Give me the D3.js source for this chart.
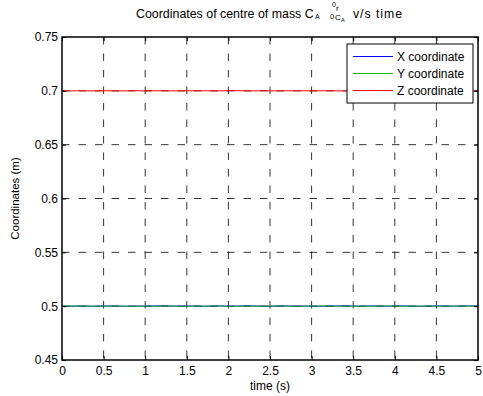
<!DOCTYPE html>
<html>
<head>
<meta charset="utf-8">
<script src="https://cdn.jsdelivr.net/npm/d3@7"></script>
<style>
  body { margin: 0; background: #fff; }
  svg { display: block; font-family: "Liberation Sans", Arial, sans-serif; }
</style>
</head>
<body>
<div id="chart"></div>
<script>
// time samples (s)
const time = d3.range(0, 51).map(i => i / 10);

// small jitter around steady values
const xCoord = [0.5000,0.4999,0.5001,0.5000,0.4999,0.5001,0.5002,0.5000,0.4999,0.5001,
  0.5000,0.5002,0.5003,0.5001,0.5000,0.5002,0.5001,0.4999,0.5000,0.5002,
  0.5000,0.5001,0.5003,0.5002,0.5000,0.4999,0.5001,0.5002,0.5000,0.5001,
  0.5000,0.4999,0.5001,0.5002,0.5003,0.5001,0.5000,0.5002,0.5001,0.5000,
  0.5001,0.5002,0.5000,0.4999,0.5001,0.5002,0.5001,0.5000,0.5001,0.5002,0.5001];
const yCoord = [0.5001,0.5002,0.5000,0.5001,0.4999,0.5000,0.5002,0.5001,0.4999,0.5000,
  0.5001,0.4999,0.5000,0.5002,0.5000,0.4999,0.5001,0.5000,0.5002,0.5001,
  0.4999,0.5000,0.5001,0.5000,0.4999,0.5001,0.5002,0.5000,0.4999,0.5001,
  0.5000,0.5002,0.5001,0.4999,0.5000,0.5001,0.5000,0.4999,0.5001,0.5002,
  0.5000,0.4999,0.5001,0.5000,0.5002,0.5001,0.4999,0.5000,0.5001,0.5000,0.5001];
const zCoord = [0.7000,0.6999,0.7001,0.7000,0.6999,0.7001,0.7000,0.6999,0.7000,0.7001,
  0.6999,0.7000,0.7001,0.7000,0.6999,0.7001,0.7000,0.7001,0.6999,0.7000,
  0.7001,0.7002,0.7000,0.6999,0.7001,0.7000,0.6999,0.7001,0.7000,0.7001,
  0.6999,0.7000,0.7001,0.7000,0.6999,0.7001,0.7000,0.7001,0.6999,0.7000,
  0.7001,0.7000,0.6999,0.7001,0.7000,0.6999,0.7000,0.7001,0.7000,0.6999,0.7000];

const xTicks = d3.range(0, 11).map(i => i * 0.5);
const yTicks = [0.45, 0.5, 0.55, 0.6, 0.65, 0.7, 0.75];

const seriesNames = ['X coordinate', 'Y coordinate', 'Z coordinate'];
const seriesColors = ['#0000ff', '#1fae1f', '#ff0000'];
const seriesValues = [xCoord, yCoord, zCoord];

const W = 483, H = 396;
const margin = { top: 37, right: 5, bottom: 36, left: 62 };
const width = W - margin.left - margin.right;
const height = H - margin.top - margin.bottom;
const fontSize = '12px';

const svg = d3.select('#chart').append('svg')
  .attr('width', W).attr('height', H);

const g = svg.append('g')
  .attr('transform', `translate(${margin.left},${margin.top})`);

const x = d3.scaleLinear().domain([0, 5]).range([0, width]);
const y = d3.scaleLinear().domain([0.45, 0.75]).range([height, 0]);

// dashed grid
g.append('g').selectAll('line')
  .data(xTicks.slice(1, -1))
  .join('line')
  .attr('x1', d => x(d)).attr('x2', d => x(d))
  .attr('y1', 0).attr('y2', height)
  .attr('stroke', '#000').attr('stroke-width', 0.8)
  .attr('stroke-dasharray', '7.5,9');

g.append('g').selectAll('line')
  .data(yTicks.slice(1, -1))
  .join('line')
  .attr('x1', 0).attr('x2', width)
  .attr('y1', d => y(d)).attr('y2', d => y(d))
  .attr('stroke', '#000').attr('stroke-width', 0.8)
  .attr('stroke-dasharray', '7.5,9');

// series
const line = d3.line()
  .x((d, i) => x(time[i]))
  .y(d => y(d));

seriesValues.forEach((vals, k) => {
  g.append('path')
    .datum(vals)
    .attr('fill', 'none')
    .attr('stroke', seriesColors[k])
    .attr('stroke-width', 1)
    .attr('d', line);
});

// axes (ticks inward, on all four sides)
const tickLen = 4;
const axisStyle = sel => {
  sel.selectAll('.domain').remove();
  sel.selectAll('line').attr('stroke', '#000');
};

g.append('g')
  .attr('transform', `translate(0,${height})`)
  .call(d3.axisBottom(x).tickValues(xTicks).tickSizeInner(-tickLen).tickSizeOuter(0).tickPadding(6)
    .tickFormat(d3.format('~g')))
  .call(axisStyle)
  .selectAll('text').style('font-size', fontSize).attr('fill', '#000');

g.append('g')
  .call(d3.axisTop(x).tickValues(xTicks).tickSizeInner(-tickLen).tickSizeOuter(0).tickFormat(''))
  .call(axisStyle);

g.append('g')
  .call(d3.axisLeft(y).tickValues(yTicks).tickSizeInner(-tickLen).tickSizeOuter(0).tickPadding(4)
    .tickFormat(d3.format('~g')))
  .call(axisStyle)
  .selectAll('text').style('font-size', fontSize).attr('fill', '#000');

g.append('g')
  .attr('transform', `translate(${width},0)`)
  .call(d3.axisRight(y).tickValues(yTicks).tickSizeInner(-tickLen).tickSizeOuter(0).tickFormat(''))
  .call(axisStyle);

// frame
g.append('rect')
  .attr('width', width).attr('height', height)
  .attr('fill', 'none').attr('stroke', '#000').attr('stroke-width', 1.5);

// labels
svg.append('text')
  .attr('x', margin.left + width / 2).attr('y', 390)
  .attr('text-anchor', 'middle').style('font-size', fontSize)
  .text('time (s)');

svg.append('text')
  .attr('transform', `translate(19,${margin.top + height / 2}) rotate(-90)`)
  .attr('text-anchor', 'middle').style('font-size', '11.5px')
  .text('Coordinates (m)');

// title with sub/superscripts, placed piece by piece like the MATLAB tex output
const titleParts = [
  { t: 'Coordinates of centre of mass C', x: 136, y: 17.5, s: 12.4 },
  { t: 'A', x: 315, y: 19, s: 7 },
  { t: '0', x: 332, y: 7, s: 7 },
  { t: 'r', x: 336, y: 11, s: 8 },
  { t: '0', x: 330, y: 19, s: 7.5 },
  { t: 'C', x: 335, y: 19.5, s: 8 },
  { t: 'A', x: 341, y: 22, s: 5.5 },
  { t: 'v/s time', x: 353, y: 17.5, s: 12.3, len: 49 }
];
svg.append('g').selectAll('text')
  .data(titleParts)
  .join('text')
  .attr('x', d => d.x).attr('y', d => d.y)
  .attr('textLength', d => d.len || null)
  .attr('lengthAdjust', 'spacing')
  .style('font-size', d => d.s + 'px')
  .text(d => d.t);

// legend
const lg = g.append('g').attr('transform', `translate(${width - 131},7)`);
lg.append('rect')
  .attr('width', 126).attr('height', 59)
  .attr('fill', '#fff').attr('stroke', '#000').attr('stroke-width', 1);
seriesNames.forEach((name, k) => {
  const yy = 12.5 + k * 17;
  lg.append('line')
    .attr('x1', 6).attr('x2', 46).attr('y1', yy).attr('y2', yy)
    .attr('stroke', seriesColors[k]).attr('stroke-width', 1);
  lg.append('text')
    .attr('x', 50).attr('y', yy + 4.5)
    .style('font-size', fontSize)
    .text(name);
});
</script>
</body>
</html>
